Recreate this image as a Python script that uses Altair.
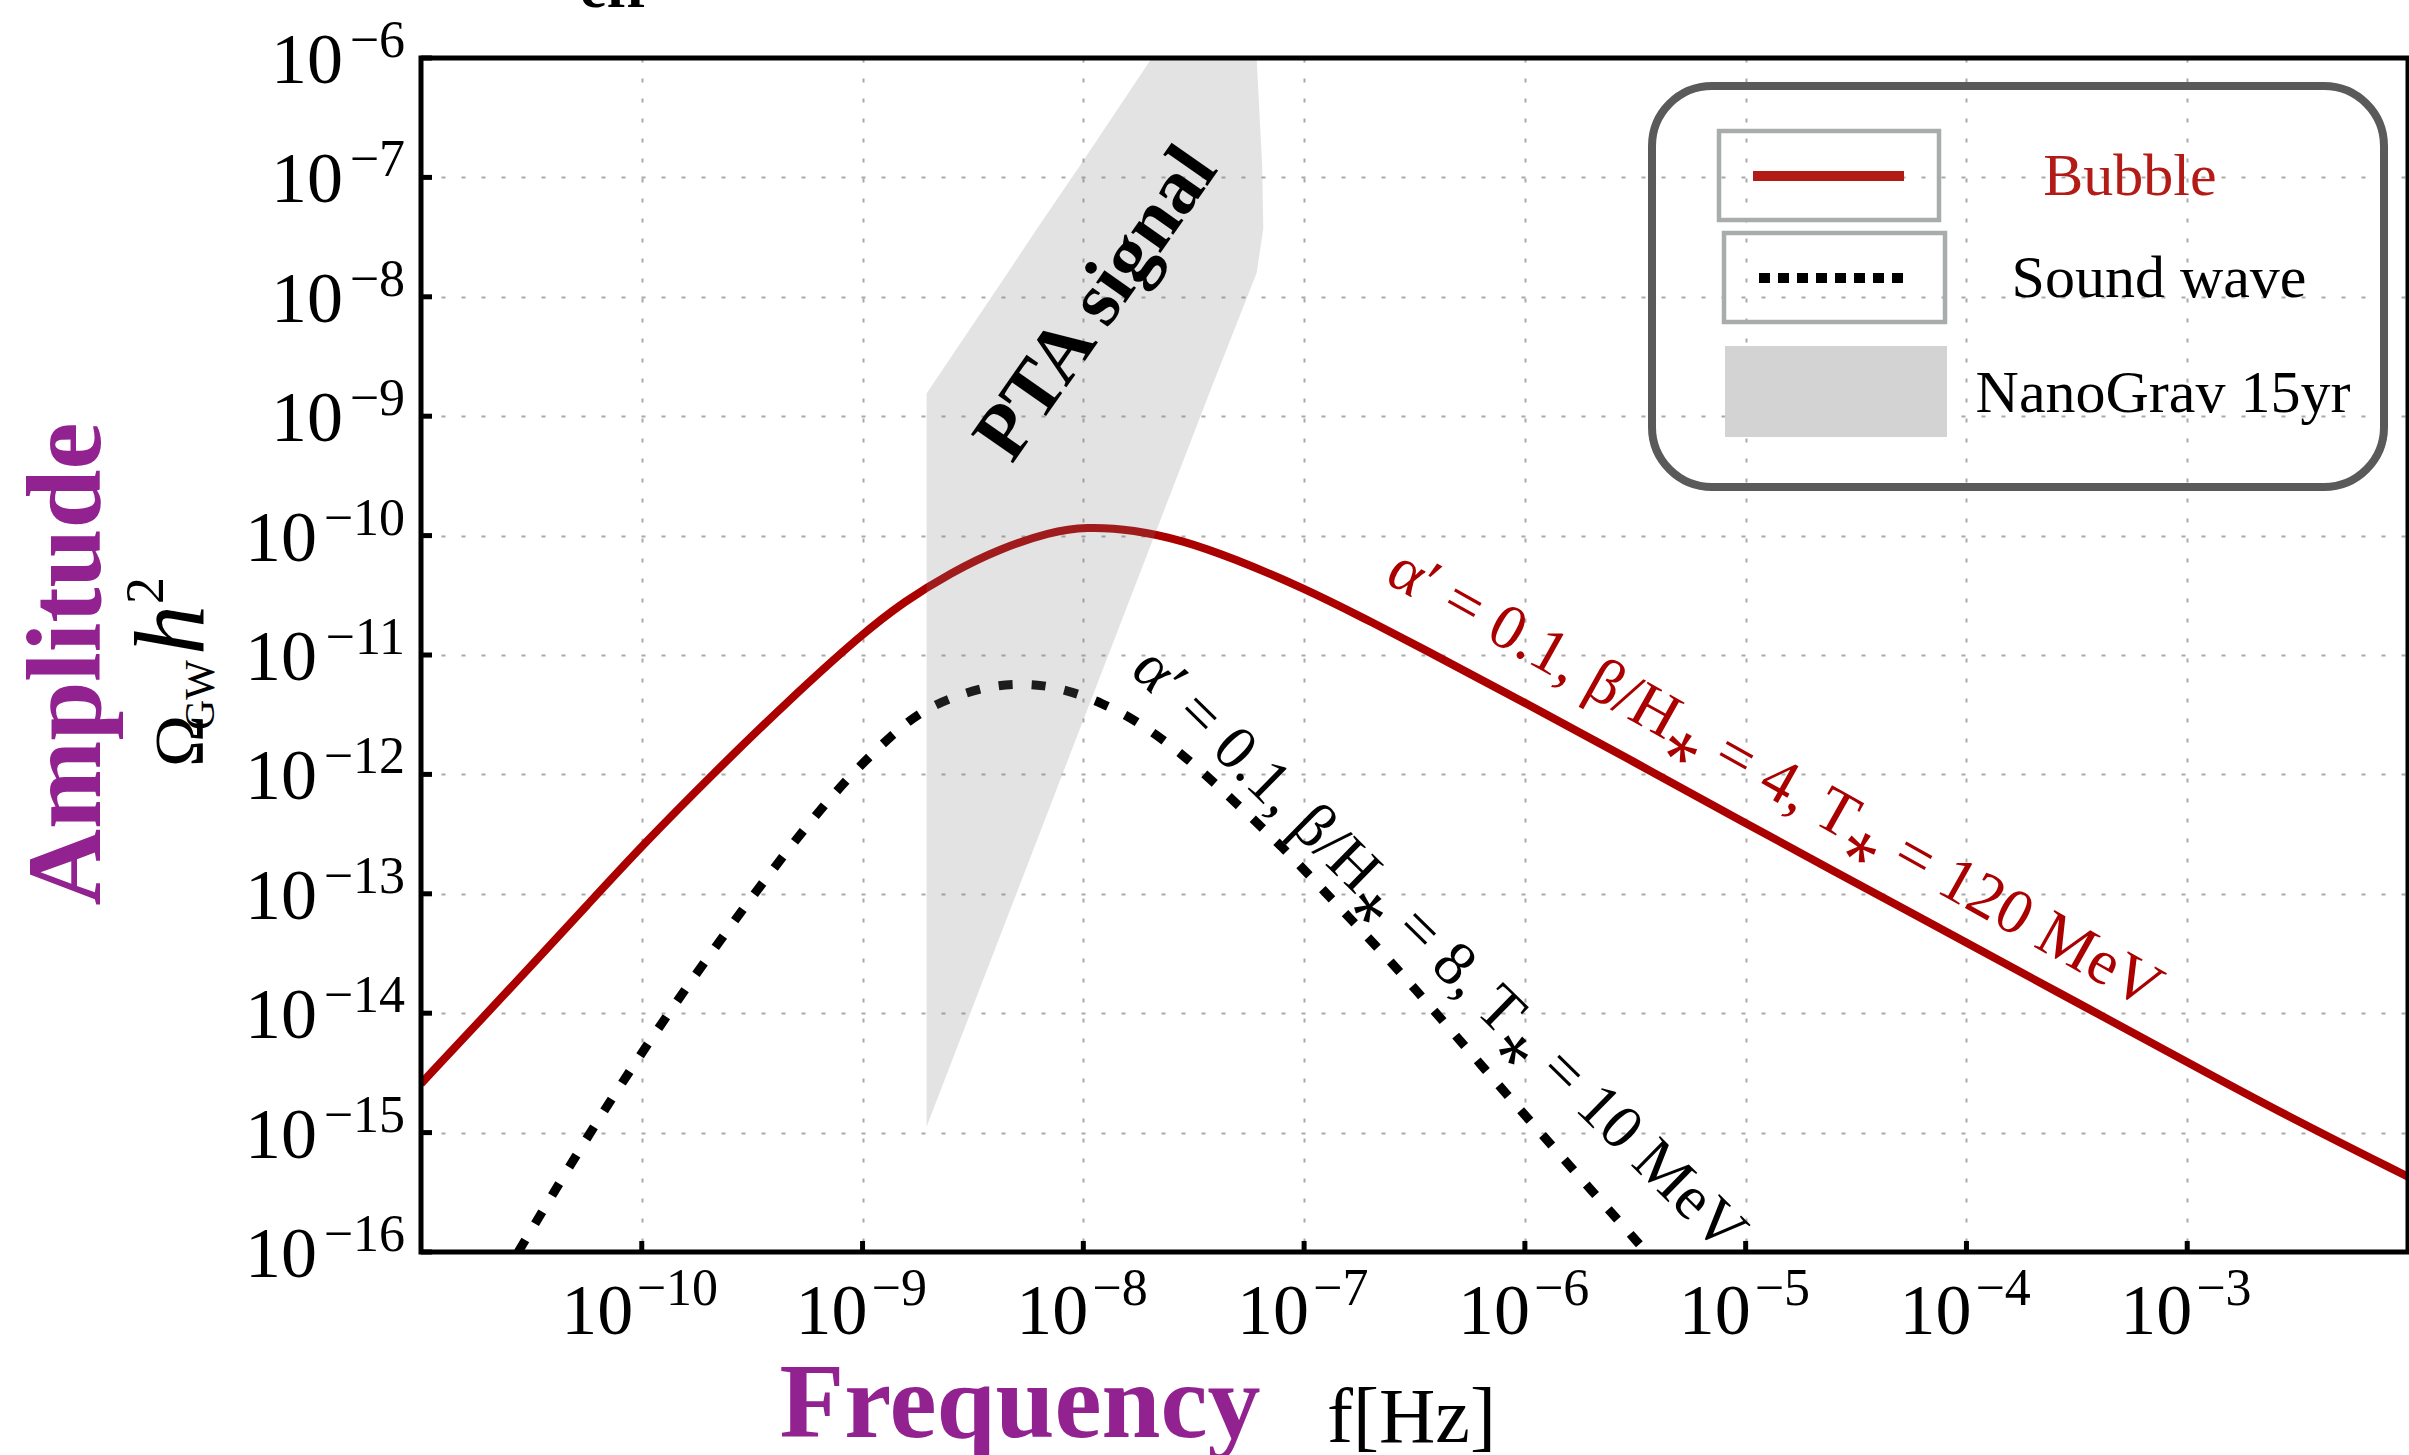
import altair as alt
import pandas as pd

# ---------------- data ----------------
bubble_log_f = [-11.0, -10.68, -10.2, -10.0, -9.68, -9.335, -9.0, -8.81, -8.6, -8.38,
                -8.15, -7.99, -7.77, -7.55, -7.32, -7.0, -6.72, -6.48, -6.0, -5.51,
                -5.0, -4.6, -4.21, -4.0, -3.46, -3.0, -2.56, -2.0]
bubble_log_omega = [-14.59, -13.96, -13.0, -12.6, -12.0, -11.38, -10.82, -10.55, -10.31, -10.11,
                    -9.97, -9.925, -9.95, -10.04, -10.19, -10.44, -10.70, -10.93, -11.40, -11.89,
                    -12.41, -12.81, -13.2, -13.41, -13.95, -14.41, -14.85, -15.37]

sound_log_f = [-10.56, -10.24, -10.0, -9.848, -9.757, -9.59, -9.425, -9.244, -9.063, -8.852,
               -8.73, -8.604, -8.45, -8.318, -8.18, -8.046, -7.92, -7.774, -7.547, -7.32,
               -7.095, -6.868, -6.62, -6.42, -6.2, -5.95, -5.7, -5.45]
sound_log_omega = [-16.0, -15.01, -14.33, -13.92, -13.68, -13.25, -12.84, -12.41, -12.02, -11.64,
                   -11.47, -11.36, -11.27, -11.24, -11.25, -11.31, -11.40, -11.53, -11.83, -12.22,
                   -12.61, -13.06, -13.54, -13.96, -14.43, -14.96, -15.48, -16.0]

pta_log_omega = [-14.95, -8.81, -7.80, -7.43, -6.9, -6.0]
pta_log_f_left = [-8.71, -8.71, -8.343, -8.21, -8.015, -7.69]
pta_log_f_right = [-8.71, -7.43, -7.215, -7.185, -7.19, -7.215]

x_tick_exponents = [-10, -9, -8, -7, -6, -5, -4, -3]
y_tick_exponents = [-6, -7, -8, -9, -10, -11, -12, -13, -14, -15, -16]

legend_labels = ["Bubble", "Sound wave", "NanoGrav 15yr"]
bubble_label = "α′ = 0.1, β/H⁎ = 4, T⁎ = 120 MeV"
sound_label = "α′ = 0.1, β/H⁎ = 8, T⁎ = 10 MeV"
pta_label = "PTA signal"

# annotation anchors (log10 f, log10 Omega)
bubble_label_at = (-4.87, -12.04)
sound_label_at = (-6.39, -13.47)
pta_label_at = (-7.94, -8.06)

# ---------------- layout / style ----------------
W, H = 1987, 1194
PAD_L, PAD_T = 421, 58
SERIF = "Liberation Serif"
RED = "#aa0000"
LEG_RED = "#b31b16"
PURPLE = "#922290"

xscale = alt.Scale(type="log", domain=[1e-11, 1e-2], nice=False)
yscale = alt.Scale(type="log", domain=[1e-16, 1e-6], nice=False)
xaxis = alt.Axis(values=[10.0 ** e for e in x_tick_exponents], labels=False, ticks=False,
                 domain=False, grid=True, gridColor="#a9a9a9", gridDash=[4, 16],
                 gridWidth=2, title=None)
yaxis = alt.Axis(values=[10.0 ** e for e in y_tick_exponents], labels=False, ticks=False,
                 domain=False, grid=True, gridColor="#a9a9a9", gridDash=[4, 16],
                 gridWidth=2, title=None)


def X(field):
    return alt.X(field, type="quantitative", scale=xscale, axis=xaxis)


def Y(field):
    return alt.Y(field, type="quantitative", scale=yscale, axis=yaxis)


one = pd.DataFrame({"k": [0]})

bubble_df = pd.DataFrame({"f": [10.0 ** v for v in bubble_log_f],
                          "omega": [10.0 ** v for v in bubble_log_omega]})
sound_df = pd.DataFrame({"f": [10.0 ** v for v in sound_log_f],
                         "omega": [10.0 ** v for v in sound_log_omega]})
pta_df = pd.DataFrame({"omega": [10.0 ** v for v in pta_log_omega],
                       "fl": [10.0 ** v for v in pta_log_f_left],
                       "fr": [10.0 ** v for v in pta_log_f_right]})

xt = pd.DataFrame({"v": [10.0 ** e for e in x_tick_exponents],
                   "base": ["10"] * len(x_tick_exponents),
                   "exp": ["−" + str(-e) for e in x_tick_exponents],
                   "nd": [len(str(-e)) for e in x_tick_exponents]})
yt = pd.DataFrame({"v": [10.0 ** e for e in y_tick_exponents],
                   "base": ["10"] * len(y_tick_exponents),
                   "exp": ["−" + str(-e) for e in y_tick_exponents],
                   "nd": [len(str(-e)) for e in y_tick_exponents]})

layers = []

# curves
layers.append(alt.Chart(bubble_df).mark_line(color=RED, strokeWidth=8, interpolate="basis", clip=True)
              .encode(x=X("f"), y=Y("omega")))
layers.append(alt.Chart(sound_df).mark_line(color="black", strokeWidth=9, strokeDash=[14, 19],
                                             interpolate="basis", clip=True)
              .encode(x=X("f"), y=Y("omega")))

# PTA band (semi-transparent, drawn over the curves)
layers.append(alt.Chart(pta_df).mark_area(orient="horizontal", color="#808080", opacity=0.22, clip=True)
              .encode(y=Y("omega"), x=X("fl"), x2=alt.X2("fr")))


# annotations
def anno(text, at, angle, size, color, weight="normal"):
    df = pd.DataFrame({"ax": [10.0 ** at[0]], "ay": [10.0 ** at[1]]})
    return alt.Chart(df).mark_text(text=text, angle=angle, fontSize=size, font=SERIF, color=color,
                                   fontWeight=weight, align="center", baseline="middle").encode(
        x=X("ax"), y=Y("ay"))


layers.append(anno(pta_label, pta_label_at, 305, 78, "black", "bold"))
layers.append(anno(bubble_label, bubble_label_at, 29.3, 64, RED))
layers.append(anno(sound_label, sound_label_at, 44.5, 63, "black"))

# ticks (inward)
layers.append(alt.Chart(xt).mark_rule(color="black", strokeWidth=5)
              .encode(x=X("v"), y=alt.value(H), y2=alt.value(H - 11)))
layers.append(alt.Chart(yt).mark_rule(color="black", strokeWidth=5)
              .encode(y=Y("v"), x=alt.value(0), x2=alt.value(11)))

# frame
layers.append(alt.Chart(one).mark_rect(fillOpacity=0, stroke="black", strokeWidth=5)
              .encode(x=alt.value(0), x2=alt.value(W), y=alt.value(0), y2=alt.value(H)))

# x tick labels: 10 with superscript exponent
for nd, dxb, dxe in [(1, 5, 9), (2, -8.5, -5)]:
    layers.append(alt.Chart(xt).transform_filter(f"datum.nd == {nd}")
                  .mark_text(align="right", baseline="alphabetic", fontSize=72, font=SERIF, dx=dxb)
                  .encode(x=X("v"), y=alt.value(H + 82), text="base:N"))
    layers.append(alt.Chart(xt).transform_filter(f"datum.nd == {nd}")
                  .mark_text(align="left", baseline="alphabetic", fontSize=52, font=SERIF, dx=dxe)
                  .encode(x=X("v"), y=alt.value(H + 53), text="exp:N"))

# y tick labels
for nd, xb in [(1, -78), (2, -104)]:
    layers.append(alt.Chart(yt).transform_filter(f"datum.nd == {nd}")
                  .mark_text(align="right", baseline="alphabetic", fontSize=72, font=SERIF, dy=25)
                  .encode(y=Y("v"), x=alt.value(xb), text="base:N"))
    layers.append(alt.Chart(yt).transform_filter(f"datum.nd == {nd}")
                  .mark_text(align="right", baseline="alphabetic", fontSize=52, font=SERIF, dy=-1)
                  .encode(y=Y("v"), x=alt.value(-16), text="exp:N"))


def ptext(text, x, y, size, color="black", weight="normal", style="normal", angle=0, align="left"):
    return alt.Chart(one).mark_text(text=text, fontSize=size, font=SERIF, color=color,
                                    fontWeight=weight, fontStyle=style, angle=angle, align=align,
                                    baseline="alphabetic").encode(x=alt.value(x), y=alt.value(y))


# axis titles
layers.append(ptext("Amplitude", -321, 606, 106, PURPLE, "bold", angle=270, align="center"))
layers.append(ptext("Ω", -218, 709, 70, angle=270))
layers.append(ptext("GW", -207, 672, 42, angle=270))
layers.append(ptext("h", -218, 597, 100, style="italic", angle=270))
layers.append(ptext("2", -258, 546, 54, angle=270))
layers.append(ptext("Frequency", 599, 1379, 106, PURPLE, "bold", align="center"))
layers.append(ptext("f[Hz]", 906, 1384, 78))
layers.append(ptext("eff", 159, -51, 60, weight="bold"))

# legend
layers.append(alt.Chart(one).mark_rect(fillOpacity=0, stroke="#5a5a5a", strokeWidth=8, cornerRadius=60)
              .encode(x=alt.value(1231), x2=alt.value(1963), y=alt.value(28), y2=alt.value(429)))
layers.append(alt.Chart(one).mark_rect(fillOpacity=0, stroke="#a9acac", strokeWidth=4.5)
              .encode(x=alt.value(1298), x2=alt.value(1518), y=alt.value(73), y2=alt.value(162)))
layers.append(alt.Chart(one).mark_rule(color=LEG_RED, strokeWidth=10)
              .encode(x=alt.value(1332), x2=alt.value(1483), y=alt.value(118)))
layers.append(alt.Chart(one).mark_rect(fillOpacity=0, stroke="#a9acac", strokeWidth=4.5)
              .encode(x=alt.value(1303), x2=alt.value(1524), y=alt.value(175), y2=alt.value(264)))
layers.append(alt.Chart(one).mark_rule(color="black", strokeWidth=10, strokeDash=[11, 8])
              .encode(x=alt.value(1338), x2=alt.value(1490), y=alt.value(220)))
layers.append(alt.Chart(one).mark_rect(color="#d3d3d3")
              .encode(x=alt.value(1304), x2=alt.value(1526), y=alt.value(288), y2=alt.value(379)))
layers.append(ptext(legend_labels[0], 1709, 137, 60, LEG_RED, align="center"))
layers.append(ptext(legend_labels[1], 1738, 239, 60, align="center"))
layers.append(ptext(legend_labels[2], 1742, 354, 60, align="center"))

chart = alt.layer(*layers).properties(
    width=W, height=H,
    autosize=alt.AutoSizeParams(type="none"),
    padding={"left": PAD_L, "top": PAD_T, "right": 1, "bottom": 1455 - PAD_T - H},
    background="white",
).configure_view(strokeWidth=0)

chart.save("out.html", embed_options={"renderer": "svg", "actions": False})
